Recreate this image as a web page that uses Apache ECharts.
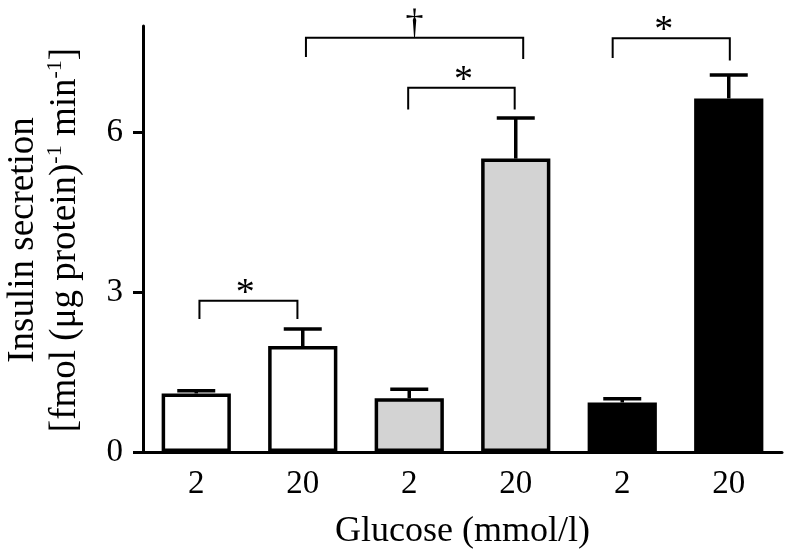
<!DOCTYPE html>
<html>
<head>
<meta charset="utf-8">
<script src="https://cdn.jsdelivr.net/npm/echarts@6/dist/echarts.min.js"></script>
<style>html,body{margin:0;padding:0;background:#fff;}#chart{width:786px;height:555px;}</style>
</head>
<body>
<div id="chart"></div>
<script>
// ---- data ----
const categories = ['2', '20', '2', '20', '2', '20'];
const means = [1.10, 1.99, 1.01, 5.51, 0.93, 6.64];
const errors = [0.05, 0.32, 0.17, 0.76, 0.07, 0.44];
const yTicks = [0, 3, 6];
// brackets
const bracketX1 = [0.03, 1.99, 1.03, 3.91];
const bracketX2 = [0.95, 2.99, 3.07, 5.01];
const bracketTop = [2.84, 6.84, 7.78, 7.77];
const bracketBotL = [2.50, 6.43, 7.42, 7.40];
const bracketBotR = [2.50, 6.43, 7.38, 7.35];
const bracketLabelX = [0.46, 2.51, 2.05, 4.39];
const bracketLabels = ['*', '*', '\u2020', '*'];

// ---- styles ----
const fills = ['#ffffff', '#ffffff', '#d3d3d3', '#d3d3d3', '#000000', '#000000'];
const FONT = 'Liberation Serif';

const chart = echarts.init(document.getElementById('chart'));

const barData = means.map((v, i) => ({
  value: v,
  itemStyle: { color: fills[i], borderColor: '#000', borderWidth: 3.5 }
}));
const errData = means.map((v, i) => [i, v, errors[i]]);
const bracketData = bracketX1.map((x1, i) => [x1, bracketX2[i], bracketTop[i], bracketBotL[i], bracketBotR[i], bracketLabelX[i], i]);

const option = {
  animation: false,
  backgroundColor: '#fff',
  grid: { left: 143, right: 4, top: 26, bottom: 102, containLabel: false },
  xAxis: [{
    type: 'category',
    data: categories,
    boundaryGap: true,
    axisLine: { onZero: false, lineStyle: { color: '#000', width: 3 } },
    axisTick: { alignWithLabel: true, length: 10, lineStyle: { color: '#000', width: 3 } },
    axisLabel: { color: '#000', fontFamily: FONT, fontSize: 33, margin: 16 },
    name: 'Glucose (mmol/l)',
    nameLocation: 'middle',
    nameGap: 62,
    nameTextStyle: { color: '#000', fontFamily: FONT, fontSize: 36 }
  }, {
    type: 'value', show: false, min: -0.5, max: 5.5
  }],
  yAxis: {
    type: 'value',
    min: 0, max: 8, interval: 3,
    splitLine: { show: false },
    axisLine: { show: true, onZero: false, lineStyle: { color: '#000', width: 3 } },
    axisTick: { show: true, length: 10, customValues: yTicks, lineStyle: { color: '#000', width: 3 } },
    axisLabel: { customValues: yTicks, color: '#000', fontFamily: FONT, fontSize: 33, margin: 20 }
  },
  graphic: [{
    type: 'text',
    x: 44, y: 240,
    rotation: Math.PI / 2,
    style: {
      text: 'Insulin secretion\n[fmol (\u03bcg protein){sup|-1} min{sup|-1}]',
      fill: '#000',
      fontFamily: FONT,
      fontSize: 37,
      lineHeight: 42,
      align: 'center',
      verticalAlign: 'middle',
      rich: {
        sup: { fontSize: 22, fontFamily: FONT, fill: '#000', verticalAlign: 'top', lineHeight: 42 }
      }
    }
  }],
  series: [{
    type: 'bar',
    data: barData,
    barWidth: '65%',
    z: 2
  }, {
    type: 'custom',
    data: errData,
    z: 3,
    renderItem: function (params, api) {
      const idx = api.value(0), m = api.value(1), e = api.value(2);
      const p0 = api.coord([idx, m]);
      const p1 = api.coord([idx, m + e]);
      const st = { stroke: '#000', lineWidth: 3.5 };
      return {
        type: 'group',
        children: [
          { type: 'line', shape: { x1: p0[0], y1: p0[1], x2: p1[0], y2: p1[1] }, style: st },
          { type: 'line', shape: { x1: p1[0] - 19, y1: p1[1], x2: p1[0] + 19, y2: p1[1] }, style: st }
        ]
      };
    }
  }, {
    type: 'custom',
    xAxisIndex: 1,
    data: bracketData,
    z: 4,
    renderItem: function (params, api) {
      const x1 = api.value(0), x2 = api.value(1), top = api.value(2);
      const bl = api.value(3), br = api.value(4), lx = api.value(5), li = api.value(6);
      const a = api.coord([x1, bl]), b = api.coord([x1, top]), c = api.coord([x2, top]), d = api.coord([x2, br]);
      const lp = api.coord([lx, top]);
      const isDagger = bracketLabels[li] !== '*';
      return {
        type: 'group',
        children: [
          { type: 'polyline', shape: { points: [a, b, c, d] }, style: { stroke: '#000', lineWidth: 2, fill: null } },
          { type: 'text', x: lp[0], y: lp[1] + (isDagger ? 5 : 12),
            style: { text: bracketLabels[li], fill: '#000', fontFamily: FONT, fontSize: isDagger ? 36 : 38,
                     align: 'center', verticalAlign: 'bottom' } }
        ]
      };
    }
  }]
};
chart.setOption(option);
</script>
</body>
</html>
